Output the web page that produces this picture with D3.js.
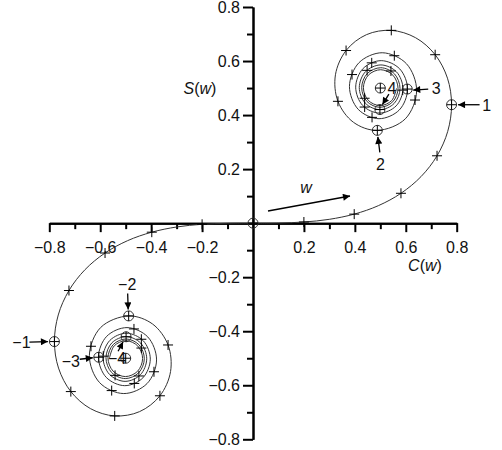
<!DOCTYPE html>
<html><head><meta charset="utf-8">
<script src="https://cdn.jsdelivr.net/npm/d3@7"></script>
<style>body{margin:0;background:#fff}svg{display:block}text{font-family:"Liberation Sans",Arial,sans-serif}</style>
</head><body><svg id="c" width="502" height="450"></svg>
<script>
// Cornu spiral, branch w >= 0 (w = 0 ... 5)
const spiralPosC = [0,0.1000,0.1999,0.2994,0.3975,0.4923,0.5811,0.6597,0.7228,0.7648,0.7799,0.7638,0.7154,0.6386,0.5431,0.4453,0.3655,0.3238,0.3336,0.3945,0.4883,0.5982,0.6426,0.6024,0.5076,0.4160,0.3788,0.4132,0.4948,0.5745,0.6070,0.5765,0.5038,0.4325,0.4033,0.4309,0.4970,0.5621,0.5889,0.5635,0.5024,0.4422,0.4174,0.4411,0.4980,0.5543,0.5775,0.5553,0.5017,0.4487,0.4268,0.4479,0.4985,0.5488,0.5696,0.5495,0.5013,0.4534,0.4336,0.4528,0.4989,0.5447,0.5636];
const spiralPosS = [0,0.0005,0.0042,0.0141,0.0334,0.0647,0.1105,0.1721,0.2493,0.3398,0.4383,0.5365,0.6234,0.6863,0.7135,0.6975,0.6389,0.5492,0.4509,0.3733,0.3434,0.3861,0.4903,0.5903,0.6307,0.5937,0.5062,0.4212,0.3866,0.4188,0.4956,0.5707,0.6015,0.5726,0.5034,0.4354,0.4074,0.4339,0.4973,0.5599,0.5856,0.5611,0.5022,0.4440,0.4200,0.4430,0.4982,0.5528,0.5753,0.5536,0.5016,0.4500,0.4287,0.4492,0.4986,0.5477,0.5679,0.5483,0.5012,0.4544,0.4351,0.4538,0.4989];
// branch w <= 0 (w = 0 ... -5)
const spiralNegC = [0,-0.1000,-0.1999,-0.2994,-0.3975,-0.4923,-0.5811,-0.6597,-0.7228,-0.7648,-0.7799,-0.7638,-0.7154,-0.6386,-0.5431,-0.4453,-0.3655,-0.3238,-0.3336,-0.3945,-0.4883,-0.5982,-0.6426,-0.6024,-0.5076,-0.4160,-0.3788,-0.4132,-0.4948,-0.5745,-0.6070,-0.5765,-0.5038,-0.4325,-0.4033,-0.4309,-0.4970,-0.5621,-0.5889,-0.5635,-0.5024,-0.4422,-0.4174,-0.4411,-0.4980,-0.5543,-0.5775,-0.5553,-0.5017,-0.4487,-0.4268,-0.4479,-0.4985,-0.5488,-0.5696,-0.5495,-0.5013,-0.4534,-0.4336,-0.4528,-0.4989,-0.5447,-0.5636];
const spiralNegS = [0,-0.0005,-0.0042,-0.0141,-0.0334,-0.0647,-0.1105,-0.1721,-0.2493,-0.3398,-0.4383,-0.5365,-0.6234,-0.6863,-0.7135,-0.6975,-0.6389,-0.5492,-0.4509,-0.3733,-0.3434,-0.3861,-0.4903,-0.5903,-0.6307,-0.5937,-0.5062,-0.4212,-0.3866,-0.4188,-0.4956,-0.5707,-0.6015,-0.5726,-0.5034,-0.4354,-0.4074,-0.4339,-0.4973,-0.5599,-0.5856,-0.5611,-0.5022,-0.4440,-0.4200,-0.4430,-0.4982,-0.5528,-0.5753,-0.5536,-0.5016,-0.4500,-0.4287,-0.4492,-0.4986,-0.5477,-0.5679,-0.5483,-0.5012,-0.4544,-0.4351,-0.4538,-0.4989];

// "+" markers every 0.2 in w (non-integer), both branches
const plusC = [0.1999,0.3975,0.5811,0.7228,0.7154,0.5431,0.3655,0.3336,0.6363,0.5550,0.3889,0.4675,0.4663,0.4385,0.5880,0.4481,0.5417,0.4383,
               -0.1999,-0.3975,-0.5811,-0.7228,-0.7154,-0.5431,-0.3655,-0.3336,-0.6363,-0.5550,-0.3889,-0.4675,-0.4663,-0.4385,-0.5880,-0.4481,-0.5417,-0.4383];
const plusS = [0.0042,0.0334,0.1105,0.2493,0.6234,0.7135,0.6389,0.4509,0.4557,0.6197,0.5500,0.3915,0.5933,0.4297,0.4923,0.5656,0.5633,0.4623,
               -0.0042,-0.0334,-0.1105,-0.2493,-0.6234,-0.7135,-0.6389,-0.4509,-0.4557,-0.6197,-0.5500,-0.3915,-0.5933,-0.4297,-0.4923,-0.5656,-0.5633,-0.4623];
// circled markers: w = 0, ±1, ±2, ±3, ±4 and the two limit points
const ringC = [0,0.7799,0.4883,0.6057,0.4984,0.5,-0.7799,-0.4883,-0.6057,-0.4984,-0.5];
const ringS = [0,0.4383,0.3434,0.4963,0.4205,0.5,-0.4383,-0.3434,-0.4963,-0.4205,-0.5];

// labelled points
const annLabels = ["1","2","3","4","\u22121","\u22122","\u22123","\u22124"];
const annC = [0.7799,0.4883,0.6057,0.4984,-0.7799,-0.4883,-0.6057,-0.4984];
const annS = [0.4383,0.3434,0.4963,0.4205,-0.4383,-0.3434,-0.4963,-0.4205];

const xMajor = [-0.8,-0.6,-0.4,-0.2,0.2,0.4,0.6,0.8];
const xMinor = [-0.7,-0.5,-0.3,-0.1,0.1,0.3,0.5,0.7];
const yMajor = [-0.8,-0.6,-0.4,-0.2,0.2,0.4,0.6,0.8];
const yMinor = [-0.7,-0.5,-0.3,-0.1,0.1,0.3,0.5,0.7];

const svg = d3.select("#c");
const x = d3.scaleLinear().domain([-0.8,0.8]).range([49.3,456.7]);
const y = d3.scaleLinear().domain([-0.8,0.8]).range([439.3,7]);
const fmt = d3.format(".1f");

const defs = svg.append("defs");
defs.append("marker").attr("id","ah").attr("viewBox","0 0 10 10").attr("refX",10).attr("refY",5)
  .attr("markerWidth",9).attr("markerHeight",7).attr("markerUnits","userSpaceOnUse").attr("orient","auto")
  .append("path").attr("d","M0,0L10,5L0,10z").attr("fill","#000");

// axes
function styleAxis(g){ g.select(".domain").attr("stroke","#000").attr("stroke-width",2);
  g.selectAll(".tick line").attr("stroke","#000").attr("stroke-width",2);
  g.selectAll("text").attr("fill","#111").style("font-size","16px").style("font-family",'"Liberation Sans",Arial,sans-serif'); }
svg.append("g").attr("transform",`translate(0,${y(0)})`)
  .call(d3.axisBottom(x).tickValues(xMinor).tickSize(6).tickSizeOuter(0).tickFormat(""))
  .call(styleAxis);
svg.append("g").attr("transform",`translate(0,${y(0)})`)
  .call(d3.axisBottom(x).tickValues(xMajor).tickSize(9).tickPadding(9).tickSizeOuter(0).tickFormat(fmt))
  .call(styleAxis);
svg.append("g").attr("transform",`translate(${x(0)},0)`)
  .call(d3.axisLeft(y).tickValues(yMinor).tickSize(6).tickSizeOuter(0).tickFormat(""))
  .call(styleAxis);
svg.append("g").attr("transform",`translate(${x(0)},0)`)
  .call(d3.axisLeft(y).tickValues(yMajor).tickSize(10).tickPadding(3).tickSizeOuter(0).tickFormat(fmt))
  .call(styleAxis);

// spiral
const line = d3.line().x(d=>x(d[0])).y(d=>y(d[1])).curve(d3.curveCatmullRom.alpha(0.5));
[[spiralPosC,spiralPosS],[spiralNegC,spiralNegS]].forEach(([cs,ss])=>{
  svg.append("path").attr("d",line(d3.zip(cs,ss))).attr("fill","none").attr("stroke","#333").attr("stroke-width",1);
});

// plus markers
svg.append("g").selectAll("path").data(d3.zip(plusC,plusS)).join("path")
  .attr("d",d=>`M${x(d[0])-5},${y(d[1])}h10M${x(d[0])},${y(d[1])-5}v10`)
  .attr("stroke","#000").attr("stroke-width",1).attr("fill","none");
// ring markers
const rg = svg.append("g").selectAll("g").data(d3.zip(ringC,ringS)).join("g")
  .attr("transform",d=>`translate(${x(d[0])},${y(d[1])})`);
rg.append("circle").attr("r",5).attr("fill","none").attr("stroke","#333").attr("stroke-width",1);
rg.append("path").attr("d","M-5,0h10M0,-5v10").attr("stroke","#000").attr("stroke-width",1);

// annotations: label pixel offset from point, arrow start offset, arrow end offset
const annLayout = [
  {lx:35, ly:0.5, ax:28, ay:0, bx:6.5, by:0},
  {lx:3, ly:34, ax:2.5, ay:22, bx:0.5, by:6.5},
  {lx:29, ly:-0.5, ax:21, ay:0, bx:6, by:1},
  {lx:12, ly:-21.5, ax:9, ay:-15.5, bx:2.5, by:-5},
  {lx:-33, ly:1, ax:-25, ay:0.5, bx:-6.5, by:0},
  {lx:-1.5, ly:-31.5, ax:-1, ay:-22.5, bx:-0.5, by:-6.5},
  {lx:-28, ly:4, ax:-19, ay:2, bx:-6, by:0.5},
  {lx:-9, ly:22, ax:-8, ay:14.5, bx:-3, by:5}
];
annLabels.forEach((t,i)=>{
  const px=x(annC[i]), py=y(annS[i]), L=annLayout[i];
  svg.append("line").attr("x1",px+L.ax).attr("y1",py+L.ay).attr("x2",px+L.bx).attr("y2",py+L.by)
    .attr("stroke","#000").attr("stroke-width",1.3).attr("marker-end","url(#ah)");
  svg.append("text").attr("x",px+L.lx).attr("y",py+L.ly).attr("dy","0.35em").attr("text-anchor","middle")
    .style("font-size","16px").attr("fill","#111").text(t);
});

// axis titles
const st = svg.append("text").attr("x",200).attr("y",94).attr("text-anchor","middle").style("font-size","16px").attr("fill","#111");
st.append("tspan").style("font-style","italic").text("S");
st.append("tspan").text("(");
st.append("tspan").style("font-style","italic").text("w");
st.append("tspan").text(")");
const ct = svg.append("text").attr("x",425).attr("y",271).attr("text-anchor","middle").style("font-size","16px").attr("fill","#111");
ct.append("tspan").style("font-style","italic").text("C");
ct.append("tspan").text("(");
ct.append("tspan").style("font-style","italic").text("w");
ct.append("tspan").text(")");

// direction arrow for w
svg.append("line").attr("x1",268).attr("y1",211).attr("x2",350).attr("y2",196)
  .attr("stroke","#000").attr("stroke-width",1.3).attr("marker-end","url(#ah)");
svg.append("text").attr("x",306).attr("y",193).attr("text-anchor","middle").style("font-size","16px")
  .style("font-style","italic").attr("fill","#111").text("w");
</script></body></html>
